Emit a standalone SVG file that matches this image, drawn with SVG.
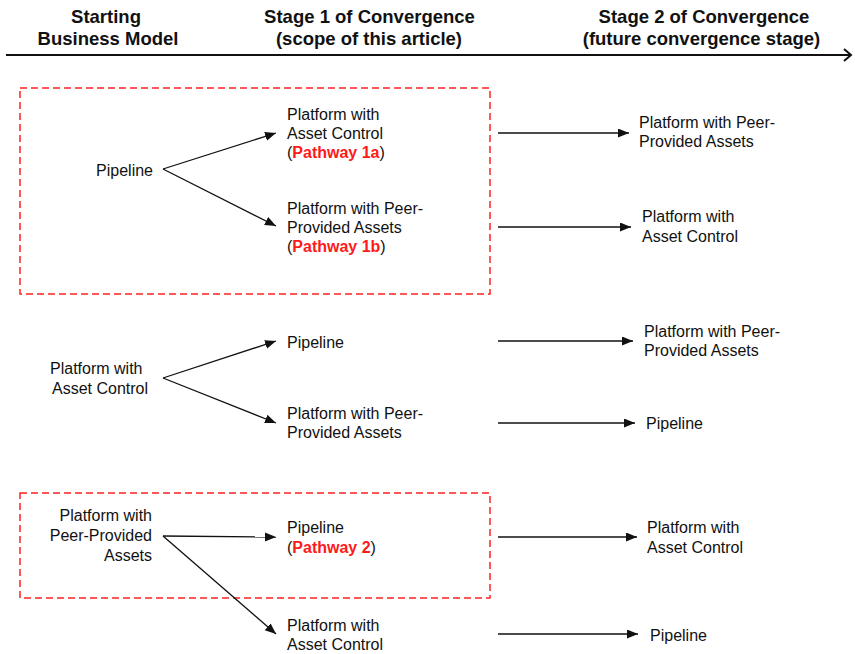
<svg xmlns="http://www.w3.org/2000/svg" width="855" height="654" viewBox="0 0 855 654">
<style>
.t{font-family:"Liberation Sans",Arial,sans-serif;font-size:16px;fill:#111}
.h{font-family:"Liberation Sans",Arial,sans-serif;font-size:18.5px;font-weight:bold;fill:#111;text-anchor:middle}
.r{fill:#ff1a1a;font-weight:bold}
.c{stroke:#111;stroke-width:1.3;fill:none;marker-end:url(#ah)}
.box{fill:none;stroke:#f22;stroke-width:1.5;stroke-dasharray:7 4}
</style>
<defs>
<marker id="ah" markerUnits="userSpaceOnUse" markerWidth="12" markerHeight="10" refX="11" refY="4.5" orient="auto">
<path d="M0,0 L11,4.5 L0,9 z" fill="#111"/>
</marker>
</defs>
<rect width="855" height="654" fill="#fff"/>
<g id="header">
<text class="h" x="106" y="23">Starting</text>
<text class="h" x="108" y="45">Business Model</text>
<text class="h" x="369.5" y="23">Stage 1 of Convergence</text>
<text class="h" x="369" y="45">(scope of this article)</text>
<text class="h" x="704" y="23">Stage 2 of Convergence</text>
<text class="h" x="701.5" y="45">(future convergence stage)</text>
<line x1="6" y1="55" x2="851" y2="55" stroke="#111" stroke-width="2"/>
<polyline points="844,49 851,55 844,61" fill="none" stroke="#111" stroke-width="2"/>
</g>
<g id="boxes">
<rect id="box1" class="box" x="20" y="88" width="470" height="206"/>
<rect id="box2" class="box" x="20" y="493" width="470" height="105"/>
</g>
<g id="connectors">
<line class="c" x1="163" y1="169" x2="276" y2="133"/>
<line class="c" x1="163" y1="169" x2="276" y2="226"/>
<line class="c" x1="498" y1="133" x2="629" y2="133"/>
<line class="c" x1="498" y1="227" x2="631" y2="227"/>
<line class="c" x1="163" y1="378" x2="276" y2="341"/>
<line class="c" x1="163" y1="378" x2="276" y2="423"/>
<line class="c" x1="498" y1="341" x2="633" y2="341"/>
<line class="c" x1="498" y1="423" x2="635" y2="423"/>
<line class="c" x1="163" y1="536" x2="276" y2="537"/>
<line class="c" x1="163" y1="536" x2="276" y2="634"/>
<line class="c" x1="498" y1="537" x2="637" y2="537"/>
<line class="c" x1="498" y1="634" x2="638" y2="634"/>
</g>
<g id="n-pipeline-start">
<text class="t" x="153" y="176" text-anchor="end">Pipeline</text>
</g>
<g id="n-1a">
<text class="t" x="287" y="120">Platform with</text>
<text class="t" x="287" y="139">Asset Control</text>
<text class="t" x="287" y="158">(<tspan class="r">Pathway 1a</tspan>)</text>
</g>
<g id="n-1b">
<text class="t" x="287" y="214">Platform with Peer-</text>
<text class="t" x="287" y="233">Provided Assets</text>
<text class="t" x="287" y="252">(<tspan class="r">Pathway 1b</tspan>)</text>
</g>
<g id="n-s2-1">
<text class="t" x="639" y="128">Platform with Peer-</text>
<text class="t" x="639" y="147">Provided Assets</text>
</g>
<g id="n-s2-2">
<text class="t" x="642" y="222">Platform with</text>
<text class="t" x="642" y="242">Asset Control</text>
</g>
<g id="n-pac-start">
<text class="t" x="50" y="374">Platform with</text>
<text class="t" x="52" y="394">Asset Control</text>
</g>
<g id="n-pipeline-2">
<text class="t" x="287" y="348">Pipeline</text>
</g>
<g id="n-ppa-2">
<text class="t" x="287" y="419">Platform with Peer-</text>
<text class="t" x="287" y="438">Provided Assets</text>
</g>
<g id="n-s2-3">
<text class="t" x="644" y="337">Platform with Peer-</text>
<text class="t" x="644" y="356">Provided Assets</text>
</g>
<g id="n-s2-4">
<text class="t" x="646" y="429">Pipeline</text>
</g>
<g id="n-ppa-start">
<text class="t" x="152" y="521" text-anchor="end">Platform with</text>
<text class="t" x="152" y="541" text-anchor="end">Peer-Provided</text>
<text class="t" x="152" y="561" text-anchor="end">Assets</text>
</g>
<g id="n-2">
<text class="t" x="287" y="533">Pipeline</text>
<text class="t" x="287" y="553">(<tspan class="r">Pathway 2</tspan>)</text>
</g>
<g id="n-pac-3">
<text class="t" x="287" y="631">Platform with</text>
<text class="t" x="287" y="650">Asset Control</text>
</g>
<g id="n-s2-5">
<text class="t" x="647" y="533">Platform with</text>
<text class="t" x="647" y="553">Asset Control</text>
</g>
<g id="n-s2-6">
<text class="t" x="650" y="641">Pipeline</text>
</g>
</svg>
